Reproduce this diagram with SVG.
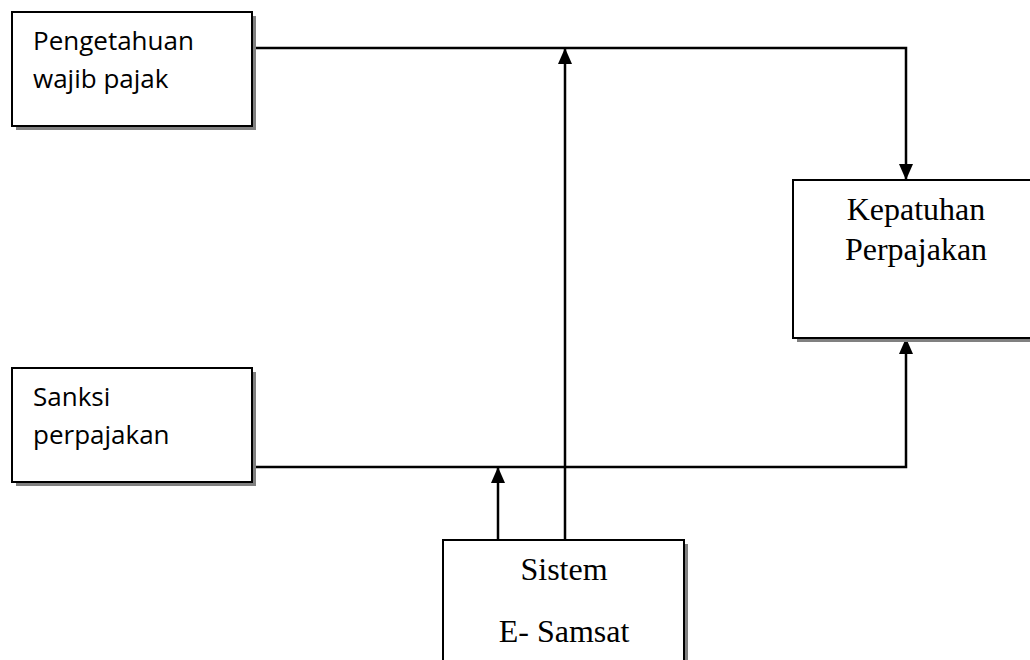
<svg xmlns="http://www.w3.org/2000/svg" width="1030" height="660" viewBox="0 0 1030 660">
<style>
.box{fill:#fff;stroke:#000;stroke-width:2}
.shadow{fill:#808080}
.sans{font-family:"Open Sans","Liberation Sans",sans-serif;font-size:26px;fill:#000}
.serif{font-family:"Liberation Serif","Times New Roman",serif;font-size:32px;fill:#000;text-anchor:middle}
.ln{fill:none;stroke:#000;stroke-width:2.5}
</style>
<defs>
<marker id="ah" viewBox="0 0 16 14" refX="16" refY="7" markerWidth="16" markerHeight="14" markerUnits="userSpaceOnUse" orient="auto">
<path d="M0,0 L16,7 L0,14 Z" fill="#000"/>
</marker>
</defs>
<rect width="1030" height="660" fill="#fff"/>
<g id="connectors">
<path class="ln" d="M252,48 H906 V180" marker-end="url(#ah)"/>
<path class="ln" d="M252,467 H906 V338" marker-end="url(#ah)"/>
<path class="ln" d="M498,540 V467" marker-end="url(#ah)"/>
<path class="ln" d="M565,540 V48" marker-end="url(#ah)"/>
</g>
<g id="pengetahuan">
<rect class="shadow" x="16" y="16" width="240" height="114"/>
<rect class="box" x="12" y="12" width="240" height="114"/>
<text class="sans" x="33" y="50">Pengetahuan</text>
<text class="sans" x="33" y="88">wajib pajak</text>
</g>
<g id="sanksi">
<rect class="shadow" x="16" y="372" width="240" height="114"/>
<rect class="box" x="12" y="368" width="240" height="114"/>
<text class="sans" x="33" y="406">Sanksi</text>
<text class="sans" x="33" y="444">perpajakan</text>
</g>
<g id="kepatuhan">
<rect class="shadow" x="797" y="184" width="240" height="158"/>
<rect class="box" x="793" y="180" width="245" height="158"/>
<text class="serif" x="916" y="220">Kepatuhan</text>
<text class="serif" x="916" y="260">Perpajakan</text>
</g>
<g id="sistem">
<rect class="shadow" x="447" y="544" width="241" height="130"/>
<rect class="box" x="443" y="540" width="241" height="130"/>
<text class="serif" x="564" y="580">Sistem</text>
<text class="serif" x="564" y="642">E- Samsat</text>
</g>
</svg>
